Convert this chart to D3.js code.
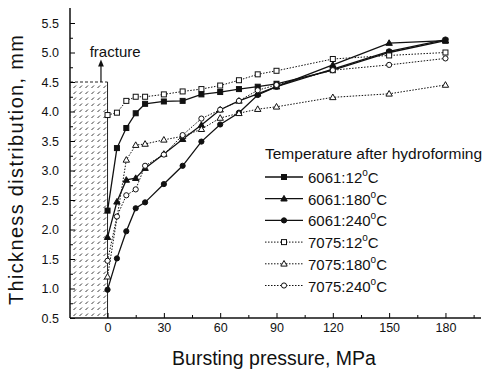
<!DOCTYPE html>
<html>
<head>
<meta charset="utf-8">
<script src="https://cdn.jsdelivr.net/npm/d3@7"></script>
<style>
  body { margin: 0; background: #fff; }
  text { font-family: "Liberation Sans", Arial, sans-serif; fill: #111; }
</style>
</head>
<body>
<div id="chart"></div>
<script>
// bursting pressure (MPa) sampled for every series
var pressure = [0, 5, 10, 15, 20, 30, 40, 50, 60, 70, 80, 90, 120, 150, 180];

// thickness (mm)
var al6061_12  = [2.32, 3.38, 3.72, 3.97, 4.13, 4.17, 4.18, 4.29, 4.33, 4.38, 4.42, 4.47, 4.70, 5.00, 5.20];
var al6061_180 = [1.87, 2.47, 2.84, 2.87, 3.04, 3.28, 3.53, 3.77, 4.03, 4.18, 4.30, 4.42, 4.79, 5.16, 5.20];
var al6061_240 = [0.98, 1.51, 1.97, 2.36, 2.46, 2.77, 3.08, 3.49, 3.78, 3.98, 4.28, 4.42, 4.72, 5.02, 5.22];
var al7075_12  = [3.94, 3.98, 4.18, 4.25, 4.25, 4.29, 4.34, 4.38, 4.44, 4.53, 4.63, 4.69, 4.89, 4.95, 5.00];
var al7075_180 = [1.20, null, 3.18, 3.43, 3.45, 3.52, 3.58, 3.70, 3.89, 3.97, 4.04, 4.08, 4.24, 4.30, 4.45];
var al7075_240 = [1.47, 2.22, 2.58, 2.68, 3.08, 3.27, 3.60, 3.88, 4.03, 4.18, 4.36, 4.45, 4.70, 4.79, 4.90];

var seriesNames = ["6061:12", "6061:180", "6061:240", "7075:12", "7075:180", "7075:240"];
var xTicks = [0, 30, 60, 90, 120, 150, 180];
var yTicks = [0.5, 1.0, 1.5, 2.0, 2.5, 3.0, 3.5, 4.0, 4.5, 5.0, 5.5];
var fractureLevel = 4.5;

var series = [
  {name: seriesNames[0], values: al6061_12,  dotted: false, shape: "square",   filled: true},
  {name: seriesNames[1], values: al6061_180, dotted: false, shape: "triangle", filled: true},
  {name: seriesNames[2], values: al6061_240, dotted: false, shape: "circle",   filled: true},
  {name: seriesNames[3], values: al7075_12,  dotted: true,  shape: "square",   filled: false},
  {name: seriesNames[4], values: al7075_180, dotted: true,  shape: "triangle", filled: false},
  {name: seriesNames[5], values: al7075_240, dotted: true,  shape: "circle",   filled: false}
];

var width = 483, height = 374;
var svg = d3.select("#chart").append("svg")
  .attr("width", width).attr("height", height);

var xScale = d3.scaleLinear().domain([-20, 200]).range([70, 483]);
var yScale = d3.scaleLinear().domain([0.5, 5.5]).range([318, 23]);

// hatch pattern for the fracture zone (short slanted dashes)
var defs = svg.append("defs");
var pat = defs.append("pattern")
  .attr("id", "hatch").attr("patternUnits", "userSpaceOnUse")
  .attr("x", 0).attr("y", 0)
  .attr("width", 6).attr("height", 6);
pat.append("path")
  .attr("d", "M1.5,4 L4,1.5")
  .attr("stroke", "#222").attr("stroke-width", 0.9).attr("fill", "none");

svg.append("rect")
  .attr("x", xScale(-20)).attr("y", yScale(fractureLevel))
  .attr("width", xScale(0) - xScale(-20))
  .attr("height", yScale(0.5) - yScale(fractureLevel))
  .attr("fill", "url(#hatch)");
svg.append("line")
  .attr("x1", xScale(-20)).attr("x2", xScale(0))
  .attr("y1", yScale(fractureLevel)).attr("y2", yScale(fractureLevel))
  .attr("stroke", "#222").attr("stroke-dasharray", "3,2");
svg.append("line")
  .attr("x1", xScale(0)).attr("x2", xScale(0))
  .attr("y1", yScale(fractureLevel)).attr("y2", yScale(0.5))
  .attr("stroke", "#222").attr("stroke-width", 1);

// fracture label and arrow
defs.append("marker")
  .attr("id", "arrow").attr("viewBox", "0 0 10 10")
  .attr("refX", 5).attr("refY", 5)
  .attr("markerWidth", 6).attr("markerHeight", 6)
  .attr("orient", "auto")
  .append("path").attr("d", "M0,1 L10,5 L0,9 z").attr("fill", "#111");
svg.append("line")
  .attr("x1", xScale(-3.5)).attr("x2", xScale(-3.5))
  .attr("y1", yScale(fractureLevel)).attr("y2", 63)
  .attr("stroke", "#111").attr("stroke-width", 1.2)
  .attr("marker-end", "url(#arrow)");
svg.append("text")
  .attr("x", xScale(-9.5)).attr("y", 57)
  .style("font-size", "15px")
  .text("fracture");

// axes
var yAxis = svg.append("g")
  .attr("transform", "translate(" + xScale(-20) + ",0)")
  .call(d3.axisLeft(yScale).tickValues(yTicks).tickFormat(d3.format(".1f"))
    .tickSizeInner(-5).tickSizeOuter(0).tickPadding(11));
yAxis.select(".domain").remove();
yAxis.selectAll("text").style("font-size", "12.5px");
svg.append("g")
  .attr("transform", "translate(" + xScale(-20) + ",0)")
  .call(d3.axisLeft(yScale).tickValues(d3.range(0.75, 5.6, 0.5)).tickFormat("")
    .tickSizeInner(-3).tickSizeOuter(0))
  .select(".domain").remove();

var xAxis = svg.append("g")
  .attr("transform", "translate(0," + yScale(0.5) + ")")
  .call(d3.axisBottom(xScale).tickValues(xTicks)
    .tickSizeInner(-5).tickSizeOuter(0).tickPadding(5));
xAxis.select(".domain").remove();
xAxis.selectAll("text").style("font-size", "12.5px");
svg.append("g")
  .attr("transform", "translate(0," + yScale(0.5) + ")")
  .call(d3.axisBottom(xScale).tickValues([15, 45, 75, 105, 135, 165, 195]).tickFormat("")
    .tickSizeInner(-3).tickSizeOuter(0))
  .select(".domain").remove();

svg.append("line")
  .attr("x1", xScale(-20)).attr("x2", xScale(-20))
  .attr("y1", 8).attr("y2", yScale(0.5))
  .attr("stroke", "#111").attr("stroke-width", 1.5);
svg.append("line")
  .attr("x1", xScale(-20)).attr("x2", 481)
  .attr("y1", yScale(0.5)).attr("y2", yScale(0.5))
  .attr("stroke", "#111").attr("stroke-width", 1.5);

svg.append("text")
  .attr("x", 274).attr("y", 365)
  .attr("text-anchor", "middle")
  .style("font-size", "19.5px")
  .text("Bursting pressure, MPa");
svg.append("text")
  .attr("transform", "translate(23,170) rotate(-90)")
  .attr("text-anchor", "middle")
  .style("font-size", "20px")
  .attr("textLength", 270)
  .text("Thickness distribution, mm");

// markers
function drawMarker(g, shape, filled, cx, cy) {
  var fill = filled ? "#111" : "#fff";
  if (shape === "square") {
    g.append("rect").attr("x", cx - 2.5).attr("y", cy - 2.5)
      .attr("width", 5).attr("height", 5)
      .attr("fill", fill).attr("stroke", "#111").attr("stroke-width", 1);
  } else if (shape === "triangle") {
    g.append("path")
      .attr("d", "M" + cx + "," + (cy - 3.3) + " L" + (cx + 3.2) + "," + (cy + 2.3) + " L" + (cx - 3.2) + "," + (cy + 2.3) + " Z")
      .attr("fill", fill).attr("stroke", "#111").attr("stroke-width", 1);
  } else {
    g.append("circle").attr("cx", cx).attr("cy", cy).attr("r", 2.6)
      .attr("fill", fill).attr("stroke", "#111").attr("stroke-width", 1);
  }
}

var line = d3.line()
  .x(function(d) { return xScale(d.p); })
  .y(function(d) { return yScale(d.v); });

series.forEach(function(s) {
  var pts = pressure.map(function(p, i) { return {p: p, v: s.values[i]}; })
    .filter(function(d) { return d.v != null; });
  var g = svg.append("g");
  g.append("path")
    .datum(pts)
    .attr("d", line)
    .attr("fill", "none")
    .attr("stroke", "#111")
    .attr("stroke-width", s.dotted ? 1 : 1.3)
    .attr("stroke-dasharray", s.dotted ? "1.5,1.5" : null);
  pts.forEach(function(d) {
    drawMarker(g, s.shape, s.filled, xScale(d.p), yScale(d.v));
  });
});

// legend
var legend = svg.append("g");
legend.append("text")
  .attr("x", 265).attr("y", 159)
  .style("font-size", "15.5px")
  .text("Temperature after hydroforming");
series.forEach(function(s, i) {
  var cy = 177 + i * 21.7;
  legend.append("line")
    .attr("x1", 265).attr("x2", 303).attr("y1", cy).attr("y2", cy)
    .attr("stroke", "#111")
    .attr("stroke-width", s.dotted ? 1 : 1.3)
    .attr("stroke-dasharray", s.dotted ? "1.5,1.5" : null);
  drawMarker(legend, s.shape, s.filled, 284, cy);
  var t = legend.append("text")
    .attr("x", 308).attr("y", cy + 6)
    .style("font-size", "15px")
    .text(s.name);
  t.append("tspan").attr("dy", -7).style("font-size", "10px").text("o");
  t.append("tspan").attr("dy", 7).text("C");
});
</script>
</body>
</html>
